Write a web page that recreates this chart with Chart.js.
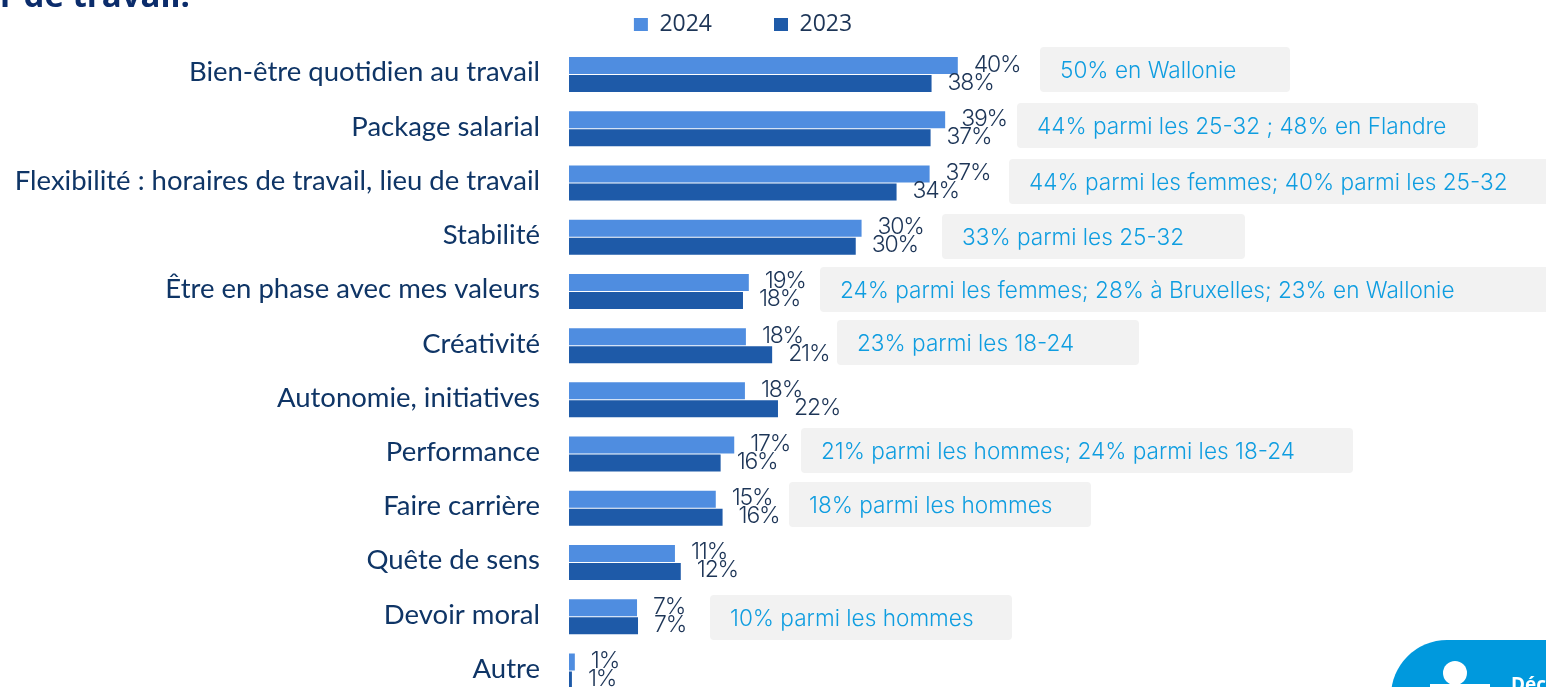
<!DOCTYPE html>
<html lang="fr">
<head>
<meta charset="utf-8">
<style>
html,body{margin:0;padding:0;background:#fff;overflow:hidden;width:1546px;height:687px}
canvas{display:block}
</style>
<script src="https://cdn.jsdelivr.net/npm/chart.js@4"></script>
</head>
<body>
<canvas id="c" width="1546" height="740"></canvas>
<script>
const categories = ["Bien-être quotidien au travail","Package salarial","Flexibilité : horaires de travail, lieu de travail","Stabilité","Être en phase avec mes valeurs","Créativité","Autonomie, initiatives","Performance","Faire carrière","Quête de sens","Devoir moral","Autre"];
const values2024 = [40,38.7,37.1,30.1,18.5,18.2,18.1,17,15.1,10.9,7,0.6];
const values2023 = [37.3,37.2,33.7,29.5,17.9,20.9,21.5,15.6,15.8,11.5,7.1,0.3];
const labels2024 = ["40%","39%","37%","30%","19%","18%","18%","17%","15%","11%","7%","1%"];
const labels2023 = ["38%","37%","34%","30%","18%","21%","22%","16%","16%","12%","7%","1%"];
const notes = ["50% en Wallonie","44% parmi les 25-32 ; 48% en Flandre","44% parmi les femmes; 40% parmi les 25-32","33% parmi les 25-32","24% parmi les femmes; 28% à Bruxelles; 23% en Wallonie","23% parmi les 18-24","","21% parmi les hommes; 24% parmi les 18-24","18% parmi les hommes","","10% parmi les hommes",""];
const noteLeft = [1040,1017,1009,942,820,837,0,801,789,0,710,0];
const noteRight = [1290,1478,1546,1245,1546,1139,0,1353,1091,0,1012,0];
const noteTop = [47,103,159,214,267,320,0,428,482,0,595,0];

const INK = "#1d3557", NAVY = "#0f3566";
const FONT_NOTE = '300 22.6px Inter, sans-serif';

const overlay = {
  id: "overlay",
  afterLayout(chart){
    const l = chart.legend;
    const w = l.right - l.left;
    l.left = 742 - w/2 + 1; l.right = l.left + w;
    l.top = -49; l.bottom = 47;
  },
  beforeDatasetsDraw(chart){
    const c = chart.ctx;
    c.save();
    c.fillStyle = "#0b2c6b";
    c.font = 'bold 33px "Open Sans", sans-serif';
    c.textBaseline = "alphabetic"; c.textAlign = "right";
    c.fillText("r de travail.", 190, 7);
    notes.forEach((t,i)=>{
      if(!t) return;
      c.fillStyle = "#f2f2f2";
      c.beginPath();
      c.roundRect(noteLeft[i], noteTop[i], noteRight[i]-noteLeft[i]+(noteRight[i]>=1546?10:0), 45, 4);
      c.fill();
      c.fillStyle = "#0f9de0";
      c.font = FONT_NOTE;
      c.textAlign = "left"; c.textBaseline = "middle";
      c.fillText(t, noteLeft[i]+20, noteTop[i]+24);
    });
    c.fillStyle = "#0099dd";
    c.beginPath(); c.roundRect(1391,640,260,120,56); c.fill();
    c.fillStyle = "#fff";
    c.beginPath(); c.arc(1455,673,12,0,Math.PI*2); c.fill();
    c.fillRect(1430,684,60,10);
    c.font = 'bold 19px "Open Sans", sans-serif';
    c.textAlign = "left"; c.textBaseline = "alphabetic";
    c.fillText("Déc", 1511, 691);
    c.restore();
  },
  afterDatasetsDraw(chart){
    const c = chart.ctx;
    c.save();
    c.fillStyle = INK;
    c.font = '300 23px Inter, sans-serif';
    c.letterSpacing = "-1.2px";
    c.textAlign = "left"; c.textBaseline = "middle";
    [labels2024, labels2023].forEach((labs,d)=>{
      chart.getDatasetMeta(d).data.forEach((b,i)=>{
        c.fillText(labs[i], b.x+16, b.y-1);
      });
    });
    c.restore();
  }
};

new Chart(document.getElementById("c"), {
  type: "bar",
  data: { labels: categories, datasets: [
    { label:"2024", data: values2024, backgroundColor:"#4f8de0", categoryPercentage:0.665, barPercentage:0.944 },
    { label:"2023", data: values2023, backgroundColor:"#1e5aa8", categoryPercentage:0.665, barPercentage:0.944 }
  ]},
  options: {
    indexAxis: "y",
    responsive: false,
    animation: false,
    layout: { padding: { top: 0, right: 491, bottom: 42, left: 0 } },
    plugins: {
      tooltip: { enabled:false },
      legend: { position:"top", maxHeight:47.5, labels:{ color:INK, boxWidth:14, boxHeight:13, padding:62, font:{ family:"'Open Sans', sans-serif", size:23 } } }
    },
    scales: {
      x: { min:0, max:50, display:false },
      y: {
        afterFit(s){ s.width = 569; },
        grid:{ display:false }, border:{ display:false },
        ticks:{ color:NAVY, padding:21, autoSkip:false, labelOffset:-2, font:{ family:"Lato, sans-serif", size:27.5 } }
      }
    }
  },
  plugins:[overlay]
});
</script>
</body>
</html>
